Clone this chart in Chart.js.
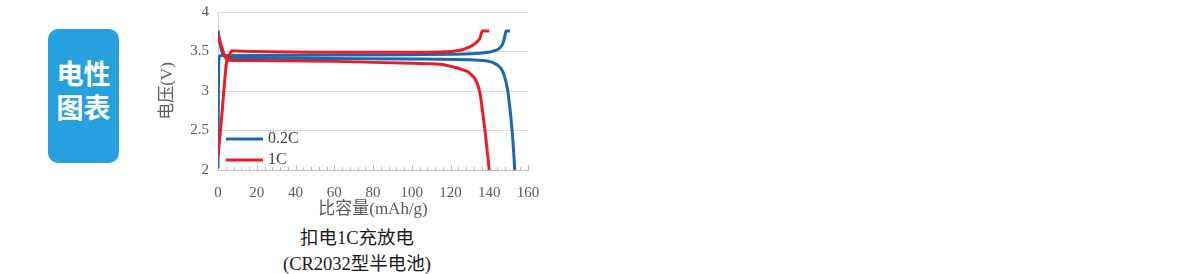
<!DOCTYPE html>
<html lang="zh">
<head>
<meta charset="utf-8">
<script src="https://cdn.jsdelivr.net/npm/chart.js@4"></script>
<style>
  html, body { margin: 0; padding: 0; background: #fff; }
  body { width: 1200px; height: 274px; position: relative; overflow: hidden; }
  .tag { position: absolute; left: 48px; top: 29px; width: 71px; height: 134px; border-radius: 10px; background: #27a1dd; }
  .tag span { position: absolute; left: 0; right: 0; top: 27px; text-align: center; color: #fff; font: bold 27px/34px "Noto Sans CJK SC"; }
  .chart-box { position: absolute; left: 150px; top: -6px; width: 400px; height: 230px; }
  .caption { position: absolute; left: 257px; top: 225px; width: 200px; text-align: center; color: #1a1a1a; font: 18.5px/26px "Liberation Serif", "Noto Sans CJK SC"; }
</style>
</head>
<body>
<div class="tag"><span>电性<br>图表</span></div>
<div class="chart-box"><canvas id="curve" width="400" height="230"></canvas></div>
<div class="caption">扣电1C充放电<br>(CR2032型半电池)</div>

<script>
// 0.2C charge / discharge (capacity mAh/g, voltage V)
const cap02Charge = [0, 0.2, 0.5, 1.5, 5, 20, 60, 100, 122.3, 130, 136, 139.5, 142, 144.7, 146.3, 147.3, 148.1, 148.7, 150.7];
const v02Charge   = [2.02, 3.0, 3.42, 3.45, 3.45, 3.45, 3.455, 3.46, 3.465, 3.47, 3.48, 3.49, 3.505, 3.53, 3.57, 3.62, 3.7, 3.76, 3.76];
const cap02Dis    = [0, 1, 2.5, 4, 8, 20, 60, 100, 122.3, 130, 139.5, 142, 144.7, 146.5, 147.8, 148.8, 149.8, 151.8, 153.2];
const v02Dis      = [3.77, 3.6, 3.47, 3.43, 3.42, 3.415, 3.41, 3.405, 3.4, 3.395, 3.377, 3.36, 3.32, 3.27, 3.19, 3.1, 2.96, 2.5, 2.0];

// 1C charge / discharge
const cap1Charge = [0, 2, 4.6, 5.5, 6.3, 7.2, 10, 20, 60, 100, 115, 120, 125, 129, 132, 134, 135.2, 135.8, 136.3, 140];
const v1Charge   = [2.16, 2.7, 3.39, 3.43, 3.48, 3.51, 3.505, 3.5, 3.49, 3.49, 3.495, 3.5, 3.515, 3.55, 3.59, 3.63, 3.67, 3.72, 3.76, 3.76];
const cap1Dis    = [0, 2, 4.5, 6, 20, 60, 100, 114.5, 122.3, 126, 129.2, 131, 132.6, 134.3, 135.4, 136.5, 137.8, 140];
const v1Dis      = [3.72, 3.55, 3.4, 3.39, 3.385, 3.375, 3.35, 3.34, 3.3, 3.27, 3.24, 3.2, 3.155, 3.06, 2.95, 2.75, 2.5, 2.0];

const seriesNames = ['0.2C', '1C'];
const xMin = 0, xMax = 160, xStep = 20;
const yMin = 2, yMax = 4, yStep = 0.5;

const BLUE = '#1a68b3';
const RED  = '#ec1c24';

const toPts = (xs, ys) => xs.map((x, i) => ({ x: x, y: ys[i] }));

// small tick marks pointing up from the x axis
const minorTicks = {
  id: 'minorTicks',
  beforeDatasetsDraw(chart) {
    const xs = chart.scales.x;
    const bottom = chart.chartArea.bottom;
    const c = chart.ctx;
    c.save();
    c.strokeStyle = '#bfbfbf';
    c.lineWidth = 1;
    for (let v = xs.min; v <= xs.max; v += 4) {
      const px = Math.round(xs.getPixelForValue(v)) + 0.5;
      const len = v % xStep === 0 ? 5 : 3;
      c.beginPath();
      c.moveTo(px, bottom);
      c.lineTo(px, bottom - len);
      c.stroke();
    }
    c.restore();
  }
};

// legend sitting inside the plot, lower left (one entry per rate)
const insideLegend = {
  id: 'insideLegend',
  afterDatasetsDraw(chart) {
    const { left, bottom } = chart.chartArea;
    const c = chart.ctx;
    c.save();
    c.font = '16px "Liberation Serif"';
    c.textBaseline = 'middle';
    [0, 2].forEach((di, k) => {
      const ds = chart.data.datasets[di];
      const y = bottom - 31 + k * 21;
      c.strokeStyle = ds.borderColor;
      c.lineWidth = 3;
      c.beginPath();
      c.moveTo(left + 8, y);
      c.lineTo(left + 45, y);
      c.stroke();
      c.fillStyle = '#404040';
      c.fillText(ds.label, left + 50, y);
    });
    c.restore();
  }
};

const lineStyle = (color) => ({
  borderColor: color,
  backgroundColor: color,
  borderWidth: 3,
  pointRadius: 0,
  fill: false,
  cubicInterpolationMode: 'monotone'
});

Chart.defaults.font.family = '"Liberation Serif", "Noto Sans CJK SC"';

new Chart(document.getElementById('curve'), {
  type: 'line',
  data: {
    datasets: [
      Object.assign({ label: seriesNames[0], data: toPts(cap02Charge, v02Charge), order: 1 }, lineStyle(BLUE)),
      Object.assign({ label: seriesNames[0] + ' 放电', data: toPts(cap02Dis, v02Dis), order: 1 }, lineStyle(BLUE)),
      Object.assign({ label: seriesNames[1], data: toPts(cap1Charge, v1Charge), order: 0 }, lineStyle(RED)),
      Object.assign({ label: seriesNames[1] + ' 放电', data: toPts(cap1Dis, v1Dis), order: 0 }, lineStyle(RED))
    ]
  },
  options: {
    responsive: false,
    animation: false,
    devicePixelRatio: 1,
    layout: { padding: { left: 3, top: 18, right: 22, bottom: 0 } },
    scales: {
      x: {
        type: 'linear',
        min: xMin, max: xMax,
        afterFit: (s) => { s.height = 54; },
        ticks: { stepSize: xStep, padding: 6, color: '#595959', font: { size: 15 } },
        grid: { display: false },
        border: { display: true, color: '#bfbfbf', width: 1 },
        title: { display: true, text: '比容量(mAh/g)', color: '#595959', font: { size: 17 } }
      },
      y: {
        min: yMin, max: yMax,
        afterFit: (s) => { s.width = 65; },
        ticks: { stepSize: yStep, padding: 9, color: '#595959', font: { size: 15 }, callback: (v) => String(v) },
        grid: { color: '#d9d9d9', drawTicks: false },
        border: { display: true, color: '#d9d9d9', width: 1 },
        title: { display: true, text: '电压(V)', color: '#595959', font: { size: 17 } }
      }
    },
    plugins: {
      tooltip: { enabled: false },
      legend: { display: false }
    }
  },
  plugins: [minorTicks, insideLegend]
});
</script>
</body>
</html>
